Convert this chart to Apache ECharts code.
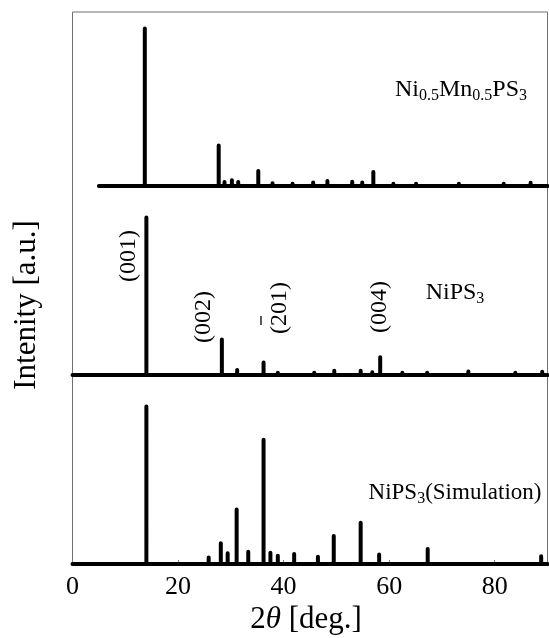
<!DOCTYPE html>
<html lang="en">
<head>
<meta charset="UTF-8" />
<title>XRD patterns</title>
<script src="https://cdn.jsdelivr.net/npm/echarts@6/dist/echarts.min.js"></script>
<style>
  html, body { margin: 0; padding: 0; background: #fff; }
  #chart { width: 549px; height: 638px; }
</style>
</head>
<body>
<div id="chart"></div>
<script>
// peak positions (2theta, deg.) and heights (% of the strongest peak)
const mnRange = [5, 90];
const mnPeaks = [13.7, 27.7, 28.8, 30.2, 31.4, 35.2, 37.9, 41.7, 45.6, 48.3, 53.0, 54.9, 57.0, 60.8, 65.1, 73.2, 81.7, 86.8];
const mnHeights = [100, 25.7, 2.5, 3.6, 2.5, 9.5, 1.8, 1.5, 2.2, 3.2, 2.7, 2.2, 8.9, 1.5, 1.5, 1.5, 1.5, 2];

const niRange = [0, 90];
const niPeaks = [14.0, 28.3, 31.2, 36.2, 38.9, 45.8, 49.6, 54.6, 56.8, 58.3, 62.5, 67.2, 75.0, 83.9, 89.0];
const niHeights = [100, 22.6, 3.2, 8, 1.5, 1.5, 2.7, 2.7, 1.8, 11.2, 1.5, 1.5, 2.2, 1.5, 2];

const simRange = [0, 90];
const simPeaks = [14.0, 25.8, 28.1, 29.4, 31.1, 33.3, 36.2, 37.5, 38.9, 42.0, 46.5, 49.5, 54.6, 58.1, 67.3, 88.8];
const simHeights = [100, 4.2, 13.1, 6.8, 34.6, 7.8, 78.9, 7.2, 5.3, 6.3, 4.6, 17.7, 26.2, 6.1, 9.5, 5];

// x axis
const xMin = 0, xMax = 90, xStep = 20;

// baseline, then a vertical stick for every peak
function sticks(range, pos, h) {
  const d = [[range[0], 0]];
  pos.forEach((p, i) => { d.push([p, 0], [p, h[i]], [p, 0]); });
  d.push([range[1], 0]);
  return d;
}

const serif = "'Liberation Serif', 'DejaVu Serif', serif";
const L = 72.5, W = 475;

function subGrid(top) {
  return { left: L, width: W, top: top, height: 157.5 };
}
function hiddenX(gi) {
  return { type: 'value', gridIndex: gi, min: xMin, max: xMax, show: false };
}
function hiddenY(gi) {
  return { type: 'value', gridIndex: gi, min: 0, max: 100, show: false };
}
function pattern(gi, data) {
  return {
    type: 'line', xAxisIndex: gi, yAxisIndex: gi, data: data,
    showSymbol: false, clip: false, animation: false,
    lineStyle: { color: '#000', width: 4, cap: 'round', join: 'round' }
  };
}
function hkl(x, y, text) {
  return {
    type: 'text', x: x, y: y, rotation: Math.PI / 2,
    style: { text: text, fontSize: 24, fontFamily: serif, fill: '#000', align: 'center', verticalAlign: 'middle' }
  };
}

const chart = echarts.init(document.getElementById('chart'));
chart.setOption({
  animation: false,
  grid: [
    { left: L, width: W, top: 12, height: 552, show: true, borderColor: '#707070', borderWidth: 1 },
    subGrid(28.5),
    subGrid(217.5),
    subGrid(406.5)
  ],
  xAxis: [
    {
      type: 'value', gridIndex: 0, min: xMin, max: xMax, interval: xStep,
      axisLine: { show: false },
      axisTick: { inside: true, length: 4, lineStyle: { color: '#808080' } },
      axisLabel: { showMaxLabel: false, margin: 10, color: '#000', fontSize: 26, fontFamily: serif },
      splitLine: { show: false }
    },
    hiddenX(1), hiddenX(2), hiddenX(3)
  ],
  yAxis: [
    { type: 'value', gridIndex: 0, show: false },
    hiddenY(1), hiddenY(2), hiddenY(3)
  ],
  series: [
    pattern(1, sticks(mnRange, mnPeaks, mnHeights)),
    pattern(2, sticks(niRange, niPeaks, niHeights)),
    pattern(3, sticks(simRange, simPeaks, simHeights))
  ],
  graphic: [
    {
      type: 'text', x: 27, y: 305, rotation: Math.PI / 2,
      style: { text: 'Intenity [a.u.]', fontSize: 31, fontFamily: serif, fill: '#000', align: 'center', verticalAlign: 'middle' }
    },
    {
      type: 'text', x: 306, y: 620,
      style: {
        text: '{n|2}{i|θ}{n| [deg.]}', align: 'center', verticalAlign: 'middle',
        rich: {
          n: { fontSize: 31, fontFamily: serif, fill: '#000' },
          i: { fontSize: 31, fontFamily: serif, fontStyle: 'italic', fill: '#000' }
        }
      }
    },
    {
      type: 'text', x: 461, y: 90,
      style: {
        text: '{m|Ni}{s|0.5}{m|Mn}{s|0.5}{m|PS}{s|3}', align: 'center', verticalAlign: 'middle',
        rich: {
          m: { fontSize: 24, fontFamily: serif, fill: '#000', lineHeight: 28 },
          s: { fontSize: 16, fontFamily: serif, fill: '#000', lineHeight: 12, verticalAlign: 'bottom' }
        }
      }
    },
    {
      type: 'text', x: 455, y: 293,
      style: {
        text: '{m|NiPS}{s|3}', align: 'center', verticalAlign: 'middle',
        rich: {
          m: { fontSize: 24, fontFamily: serif, fill: '#000', lineHeight: 28 },
          s: { fontSize: 16, fontFamily: serif, fill: '#000', lineHeight: 12, verticalAlign: 'bottom' }
        }
      }
    },
    {
      type: 'text', x: 455, y: 493,
      style: {
        text: '{m|NiPS}{s|3}{m|(Simulation)}', align: 'center', verticalAlign: 'middle',
        rich: {
          m: { fontSize: 23, fontFamily: serif, fill: '#000', lineHeight: 28 },
          s: { fontSize: 16, fontFamily: serif, fill: '#000', lineHeight: 12, verticalAlign: 'bottom' }
        }
      }
    },
    hkl(129, 256, '(001)'),
    hkl(204, 317, '(002)'),
    {
      // (2-01) with a bar over the 2
      type: 'group', x: 280, y: 308, rotation: Math.PI / 2,
      children: [
        {
          type: 'text', x: 0, y: 0,
          style: { text: '(201)', fontSize: 24, fontFamily: serif, fill: '#000', align: 'center', verticalAlign: 'middle' }
        },
        {
          type: 'line', shape: { x1: -17, y1: -19, x2: -8, y2: -19 },
          style: { stroke: '#000', lineWidth: 1.3 }
        }
      ]
    },
    hkl(380, 307, '(004)')
  ]
});
</script>
</body>
</html>
